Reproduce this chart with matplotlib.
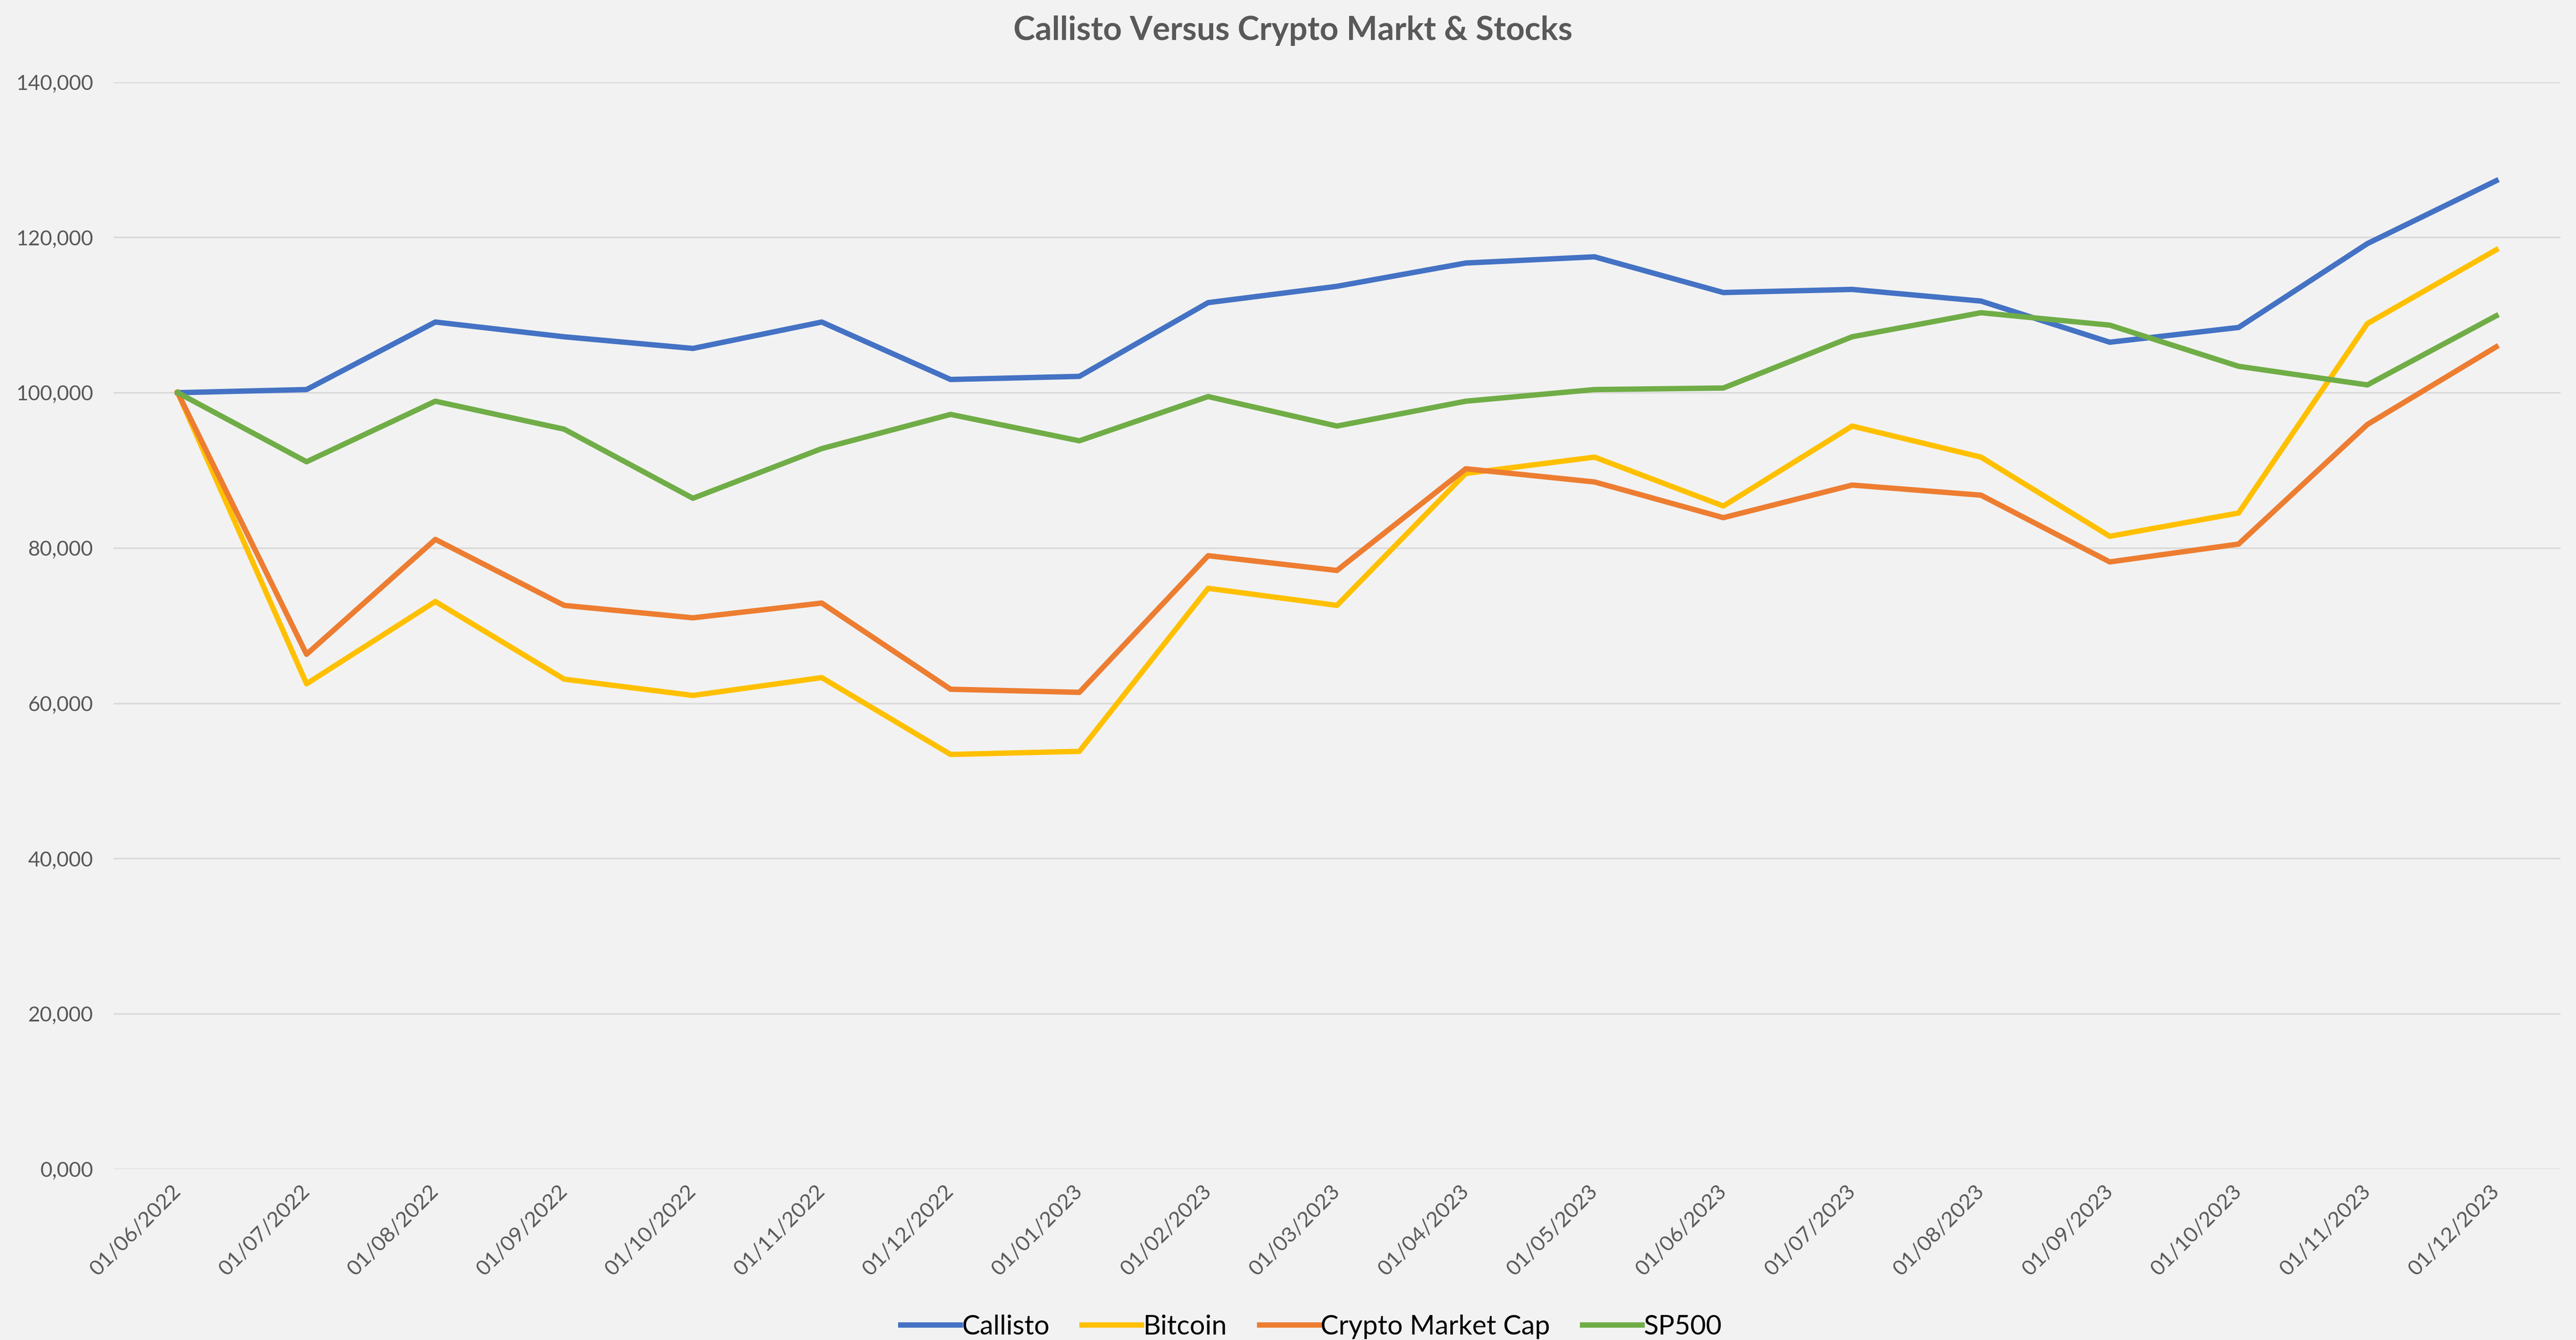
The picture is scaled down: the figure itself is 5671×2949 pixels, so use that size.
import matplotlib
matplotlib.use("Agg")
import matplotlib.pyplot as plt

# monthly index values (start = 100,000)
dates = ["01/06/2022", "01/07/2022", "01/08/2022", "01/09/2022", "01/10/2022",
         "01/11/2022", "01/12/2022", "01/01/2023", "01/02/2023", "01/03/2023",
         "01/04/2023", "01/05/2023", "01/06/2023", "01/07/2023", "01/08/2023",
         "01/09/2023", "01/10/2023", "01/11/2023", "01/12/2023"]

callisto = [100000, 100400, 109100, 107200, 105700, 109100, 101700, 102100, 111600,
            113700, 116700, 117500, 112900, 113300, 111800, 106500, 108400, 119200, 127300]
bitcoin = [100000, 62500, 73100, 63100, 61000, 63300, 53400, 53800, 74800,
           72600, 89600, 91700, 85400, 95700, 91700, 81500, 84500, 108900, 118400]
crypto_cap = [100000, 66300, 81100, 72600, 71000, 72900, 61800, 61400, 79000,
              77100, 90200, 88500, 83900, 88100, 86800, 78200, 80500, 95900, 105900]
sp500 = [100000, 91100, 98900, 95300, 86400, 92800, 97200, 93800, 99500,
         95700, 98900, 100400, 100600, 107200, 110300, 108700, 103400, 101000, 109900]

y_ticks = [0, 20000, 40000, 60000, 80000, 100000, 120000, 140000]
y_labels = ["0,000", "20,000", "40,000", "60,000", "80,000", "100,000", "120,000", "140,000"]

plt.rcParams["font.family"] = ["Lato", "DejaVu Sans"]

bg = "#F2F2F2"
fig = plt.figure(figsize=(56.71, 29.49), dpi=100, facecolor=bg)
ax = fig.add_axes([0.044, 0.1276, 0.950, 0.8111], facecolor=bg)

x = list(range(len(dates)))
ax.plot(x, callisto, color="#4472C4", lw=8.5, label="Callisto", solid_joinstyle="round")
ax.plot(x, bitcoin, color="#FFC000", lw=8.5, label="Bitcoin", solid_joinstyle="round")
ax.plot(x, crypto_cap, color="#ED7D31", lw=8.5, label="Crypto Market Cap", solid_joinstyle="round")
ax.plot(x, sp500, color="#70AD47", lw=8.5, label="SP500", solid_joinstyle="round")

ax.set_xlim(-0.5, len(dates) - 0.5)
ax.set_ylim(0, 140000)
ax.set_yticks(y_ticks)
ax.set_yticklabels(y_labels)
ax.set_xticks(x)
ax.set_xticklabels(dates, rotation=45, ha="right", va="center", rotation_mode="anchor")

ax.grid(axis="y", color="#D9D9D9", lw=2.5)
ax.set_axisbelow(True)
for s in ax.spines.values():
    s.set_visible(False)
ax.tick_params(axis="y", length=0, pad=32, labelsize=33, labelcolor="#595959")
ax.tick_params(axis="x", length=0, pad=30, labelsize=34, labelcolor="#595959")

fig.text(0.502, 0.977, "Callisto Versus Crypto Markt & Stocks", ha="center", va="center",
         fontsize=52, fontweight="bold", color="#595959")

fig.legend(loc="center", bbox_to_anchor=(0.509, 0.010), ncol=4, frameon=False,
           fontsize=43, handlelength=2.2, handletextpad=0.05, columnspacing=1.2)

fig.savefig("out.png", dpi=100, facecolor=bg)
